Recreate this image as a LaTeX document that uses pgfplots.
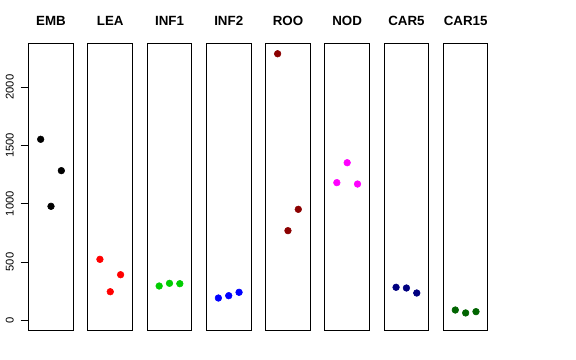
\documentclass[border=0pt]{standalone}
\usepackage{pgfplots}
\pgfplotsset{compat=1.18}
\usepackage{fontspec}
\setmainfont{Liberation Sans}
\definecolor{green3}{RGB}{0,205,0}
\definecolor{rdark}{RGB}{139,0,0}
\definecolor{navyc}{RGB}{0,0,128}
\definecolor{gdark}{RGB}{0,100,0}
\definecolor{magc}{RGB}{255,0,255}
\definecolor{redc}{RGB}{255,0,0}
\definecolor{bluec}{RGB}{0,0,255}
\pgfplotsset{
  panel/.style={
    scale only axis, width=33.5pt, height=215.8pt,
    anchor=south west,
    xmin=-0.16, xmax=4.16, ymin=-92, ymax=2377,
    xtick=\empty, ytick=\empty,
    axis line style={black, line width=0.75pt},
    title style={font=\bfseries\fontsize{10}{12}\selectfont, at={(0.5,1)}, anchor=base, yshift=7pt},
    /pgf/number format/assume math mode=true,
    /pgf/number format/set thousands separator={},
  }
}
\newcommand{\panel}[6]{%
\begin{axis}[panel, at={({(28.7+59.23*#1)*0.75pt},21.75pt)}, title={#2}]
\addplot[only marks, mark=*, mark size=2.5pt, draw=#3, fill=#3] coordinates {(1,#4) (2,#5) (3,#6)};
\end{axis}}
\begin{document}
\begin{tikzpicture}
\path (0,0) rectangle (432pt,270pt);
\begin{axis}[panel, at={(21.5pt,21.75pt)}, title={EMB},
  ytick={0,500,1000,1500,2000},
  ytick pos=left, tick align=outside, major tick length=6pt,
  tick style={black, line width=0.75pt},
  yticklabel style={font=\fontsize{8.4}{10}\selectfont, rotate=90, anchor=south, inner sep=0pt, xshift=0pt},
  yticklabel shift=5pt]
\addplot[only marks, mark=*, mark size=2.5pt, draw=black, fill=black] coordinates {(1,1553) (2,978) (3,1284)};
\end{axis}
\panel{1}{LEA}{redc}{523}{245}{391}
\panel{2}{INF1}{green3}{294}{317}{314}
\panel{3}{INF2}{bluec}{191}{211}{240}
\panel{4}{ROO}{rdark}{2287}{769}{952}
\panel{5}{NOD}{magc}{1181}{1352}{1169}
\panel{6}{CAR5}{navyc}{283}{277}{234}
\panel{7}{CAR15}{gdark}{88}{63}{74}
\end{tikzpicture}
\end{document}
